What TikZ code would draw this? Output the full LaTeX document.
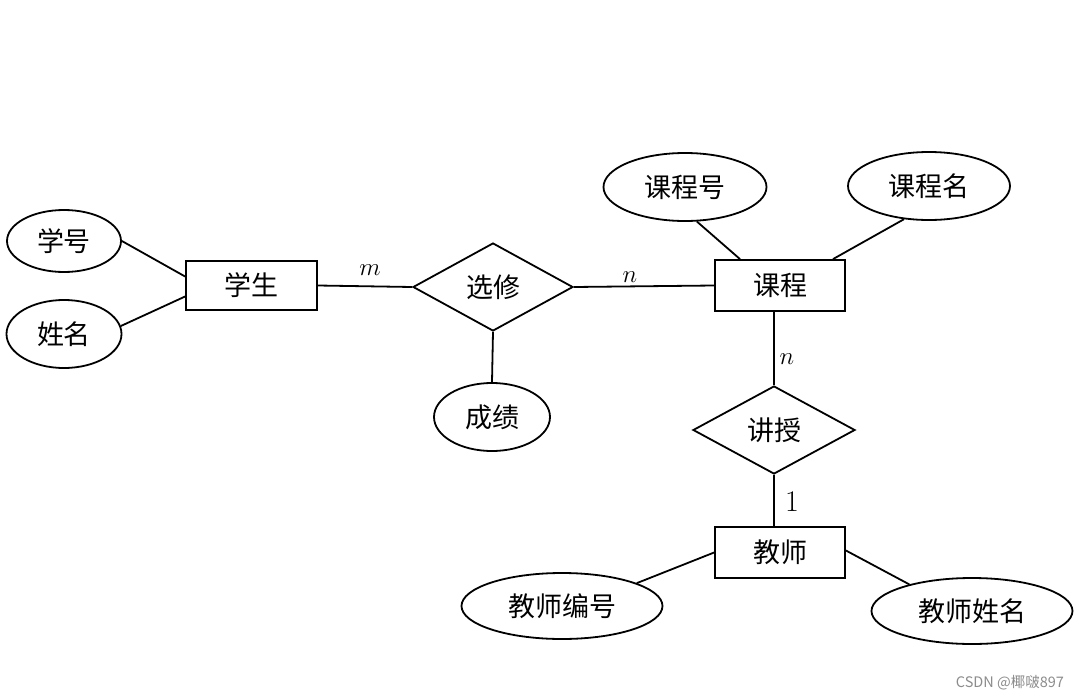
\documentclass[tikz,border=0pt]{standalone}
\usepackage{fontspec}
\newfontfamily\cjk{Noto Sans CJK SC}
\usetikzlibrary{shapes.geometric}
\begin{document}
\begin{tikzpicture}[x=1pt,y=-1pt,
  every node/.style={inner sep=0pt, font=\cjk\fontsize{27}{30}\selectfont},
  attr/.style={draw, ellipse, line width=1.8pt},
  entity/.style={draw, rectangle, line width=1.8pt},
  rel/.style={draw, diamond, line width=1.8pt},
  conn/.style={line width=1.8pt},
  card/.style={font=\fontsize{24}{28}\selectfont},
  wm/.style={font=\cjk\fontsize{14.5}{16}\selectfont, text=black!45}]
\useasboundingbox[fill=white] (0,0) rectangle (1080,699);

% entities
\node[entity, minimum width=131pt, minimum height=49pt] (xs) at (251.5,285.5) {学生};
\node[entity, minimum width=130pt, minimum height=51pt] (kc) at (780,285.5) {课程};
\node[entity, minimum width=130pt, minimum height=51pt] (jsh) at (780,552.5) {教师};

% relationships
\node[rel, minimum width=160pt, minimum height=88pt] (xx) at (493,287) {选修};
\node[rel, minimum width=162pt, minimum height=88pt] (js) at (774,430) {讲授};

% attributes
\node[attr, minimum width=114pt, minimum height=62pt] (xh) at (64,241) {学号};
\node[attr, minimum width=115pt, minimum height=68pt] (xm) at (64,334) {姓名};
\node[attr, minimum width=116pt, minimum height=68pt] (cj) at (492,417) {成绩};
\node[attr, minimum width=163pt, minimum height=68pt] (kch) at (685,187) {课程号};
\node[attr, minimum width=162pt, minimum height=68pt] (kcm) at (929,186) {课程名};
\node[attr, minimum width=201pt, minimum height=66pt] (jsbh) at (562,606) {教师编号};
\node[attr, minimum width=201pt, minimum height=66pt] (jsxm) at (972,611) {教师姓名};

% connectors
\draw[conn] (xh.east) -- ([yshift=9pt]xs.west);
\draw[conn] (xm.8) -- ([yshift=-11pt]xs.west);
\draw[conn] (xs.east) -- (xx.west);
\draw[conn] (xx.east) -- (kc.west);
\draw[conn] (xx.south) -- (cj.north);
\draw[conn] (kch.-71) -- ([xshift=-40pt]kc.north);
\draw[conn] (kcm.-127) -- ([xshift=53pt]kc.north);
\draw[conn] (js.north) -- (js.north |- kc.south);
\draw[conn] (js.south) -- (js.south |- jsh.north);
\draw[conn] (jsh.west) -- (jsbh.17);
\draw[conn] ([yshift=2pt]jsh.east) -- (jsxm.157);

% cardinalities
\node[card] (cm) at (370,270) {$m$};
\node[card] (cn1) at (630,277) {$n$};
\node[card] (cn2) at (787,359) {$n$};
\node[card] (c1) at (792,502) {\fontsize{30}{34}\selectfont 1};

% watermark
\node[wm] (wmk) at (1010,683) {CSDN @椰啵897};
\end{tikzpicture}
\end{document}
